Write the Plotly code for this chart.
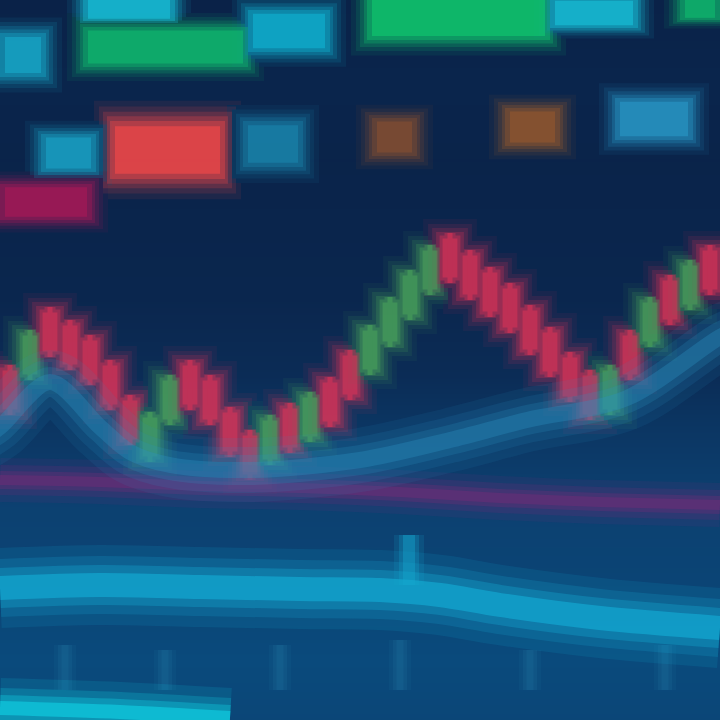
import plotly.graph_objects as go

# ---------------- data ----------------
# candlestick series (price units, 0..720)
cx = [10, 30, 50, 70, 90, 110, 130, 150, 170, 190, 210, 230, 250, 270, 290, 310, 330, 350,
      370, 390, 410, 430, 450, 470, 490, 510, 530, 550, 570, 590, 610, 630, 650, 670, 690, 710]
c_open = [347, 348, 405, 392, 377, 352, 317, 266, 303, 352, 337, 305, 282, 263, 309, 286, 335, 362,
          353, 381, 408, 433, 479, 462, 445, 429, 407, 385, 360, 342, 313, 382, 381, 437, 418, 467]
c_close = [313, 382, 371, 358, 343, 318, 283, 300, 337, 318, 303, 271, 248, 297, 275, 320, 301, 328,
           387, 415, 442, 467, 445, 428, 411, 395, 373, 351, 326, 308, 347, 348, 415, 403, 452, 433]

# moving average line
ma_x = [-20, 0, 50, 100, 130, 170, 250, 360, 450, 527, 627, 720, 740]
ma_y = [280, 293, 338, 293, 268, 255, 250, 260, 280, 300, 322, 383, 392]

# magenta support line
mg_x = [0, 100, 200, 300, 400, 500, 600, 720]
mg_y = [240, 238, 234, 232, 228, 222, 218, 215]

# cyan indicator line (lower panel)
cy_x = [0, 100, 200, 300, 380, 440, 500, 600, 720]
cy_y = [132, 135, 133, 131, 130, 125, 115, 102, 92]
spike_x = [409, 409]
spike_y = [135, 185]

# faint volume ticks
vol_x = [65, 165, 280, 400, 530, 665]
vol_h = [45, 40, 45, 50, 40, 45]

# ticker panel blocks: start, end, centre (price units), height, colour
blk_start = [83, 0, 83, 248, 367, 550, 680, 110, 41, 243, 372, 505, 615, 0]
blk_end = [175, 46, 248, 330, 550, 638, 720, 225, 96, 303, 417, 560, 693, 92]
blk_mid = [712, 665, 673, 689, 702, 707, 712, 570, 567, 576, 583, 593, 601, 518]
blk_h = [26, 44, 40, 42, 44, 30, 24, 58, 38, 46, 38, 38, 42, 36]
blk_col = ["#18c8e0", "#18b0d0", "#10c070", "#10b8d8", "#10d070", "#18c8e0", "#10c070",
           "#ff4a48", "#1aa8cc", "#1a88b0", "#8a5030", "#9a5a2c", "#2a9ccc", "#b01858"]

# ---------------- figure ----------------
fig = go.Figure()

# background gradient
bg_y = [0, 60, 140, 220, 300, 420, 560, 640, 720]
bg_z = [0.75, 0.85, 0.7, 0.6, 0.45, 0.15, 0.05, 0.1, 0.0]
fig.add_trace(go.Heatmap(
    x=[0, 720], y=bg_y, z=[[v, v] for v in bg_z], zsmooth="best",
    colorscale=[[0, "#0a2248"], [0.4, "#0b2c56"], [0.7, "#0c4070"], [1, "#0a4a7c"]],
    showscale=False, hoverinfo="skip"))


def glow_line(x, y, color, widths, opac, shape="spline"):
    for w, o in zip(widths, opac):
        fig.add_trace(go.Scatter(x=x, y=y, mode="lines",
                                 line=dict(color=color, width=w, shape=shape, smoothing=0.9),
                                 opacity=o, hoverinfo="skip", showlegend=False))


# faint volume ticks
for vx, vh in zip(vol_x, vol_h):
    glow_line([vx, vx], [30, 30 + vh], "#1a6a98", [22, 14, 7], [0.15, 0.25, 0.35], shape="linear")

# bottom-left cyan glow
glow_line([0, 120, 230], [12, 8, 2], "#10e0f0", [60, 40, 26, 14], [0.12, 0.2, 0.3, 0.5])

# cyan indicator
glow_line(cy_x, cy_y, "#14b4dc", [80, 58, 40, 24], [0.12, 0.18, 0.3, 0.55])
glow_line(spike_x, spike_y, "#14a8d0", [30, 20, 12], [0.15, 0.25, 0.4], shape="linear")

# magenta line
glow_line(mg_x, mg_y, "#7a2a78", [44, 30, 18, 10], [0.12, 0.2, 0.3, 0.4])

# blocks (blur via layered bars)
for scale, pad, op in [(1.7, 16, 0.08), (1.5, 11, 0.12), (1.32, 7, 0.18),
                       (1.16, 3, 0.25), (1.0, 0, 0.35), (0.82, -5, 0.55)]:
    fig.add_trace(go.Bar(
        y=blk_mid, x=[e - s + 2 * pad for s, e in zip(blk_start, blk_end)],
        base=[s - pad for s in blk_start],
        orientation="h", width=[h * scale for h in blk_h],
        marker=dict(color=blk_col, line=dict(width=0)), opacity=op,
        hoverinfo="skip", showlegend=False))

# moving average
glow_line(ma_x, ma_y, "#2a90c0", [64, 46, 30, 16], [0.1, 0.15, 0.22, 0.35])

# candlesticks with glow
c_high = [max(o, c) + 8 for o, c in zip(c_open, c_close)]
c_low = [min(o, c) - 8 for o, c in zip(c_open, c_close)]
for lw, op in [(44, 0.06), (34, 0.1), (26, 0.15), (18, 0.22), (11, 0.32), (5, 0.45)]:
    fig.add_trace(go.Candlestick(
        x=cx, open=c_open, high=c_high, low=c_low, close=c_close,
        increasing=dict(line=dict(color="#4fae5c", width=lw), fillcolor="#4fae5c"),
        decreasing=dict(line=dict(color="#ee3458", width=lw), fillcolor="#ee3458"),
        whiskerwidth=0, opacity=op, hoverinfo="skip", showlegend=False))

fig.update_layout(
    width=720, height=720, margin=dict(l=0, r=0, t=0, b=0),
    paper_bgcolor="#0a2248", plot_bgcolor="#0a2248",
    barmode="overlay", showlegend=False,
    xaxis=dict(range=[0, 720], visible=False, rangeslider=dict(visible=False), fixedrange=True),
    yaxis=dict(range=[0, 720], visible=False, fixedrange=True),
)

fig.write_html("out.html", config=dict(displayModeBar=False, staticPlot=True),
               post_script="document.body.style.margin='0';document.body.style.background='#0a2248';")
